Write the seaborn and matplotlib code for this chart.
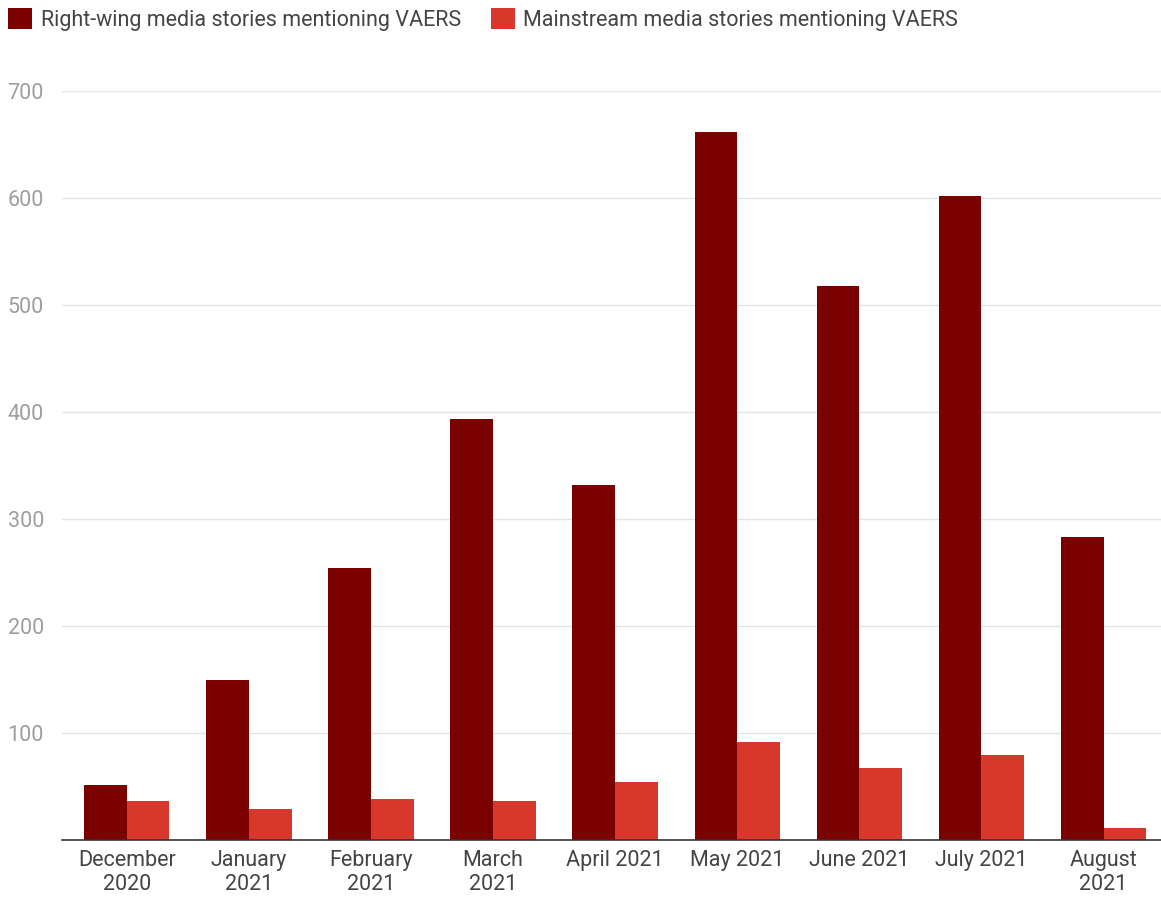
import matplotlib
matplotlib.use("Agg")
import matplotlib.pyplot as plt
import seaborn as sns
import pandas as pd
from matplotlib.patches import Patch

months = ["December\n2020", "January\n2021", "February\n2021", "March\n2021",
          "April 2021", "May 2021", "June 2021", "July 2021", "August\n2021"]
right_wing = [51, 150, 254, 393, 332, 662, 518, 602, 283]
mainstream = [36, 29, 38, 36, 54, 92, 67, 79, 11]
series_names = ["Right-wing media stories mentioning VAERS",
                "Mainstream media stories mentioning VAERS"]
colors = ["#7b0000", "#d8382c"]
y_ticks = [100, 200, 300, 400, 500, 600, 700]

df = pd.DataFrame({
    "month": months * 2,
    "value": right_wing + mainstream,
    "series": [series_names[0]] * len(months) + [series_names[1]] * len(months),
})

sns.set_theme(style="white")
plt.rcParams["font.family"] = ["Roboto", "DejaVu Sans"]

fig = plt.figure(figsize=(11.61, 9.01), dpi=100)
ax = fig.add_axes([0.0534, 0.0677, 0.9466, 0.8313])

sns.barplot(data=df, x="month", y="value", hue="series", order=months,
            hue_order=series_names, palette=colors, width=0.7, gap=0,
            saturation=1, ax=ax, legend=False, errorbar=None, linewidth=0)

ax.set_xlim(-0.53, len(months) - 0.53)
ax.set_ylim(0, 700)
ax.set_yticks(y_ticks)
ax.set_yticklabels([str(t) for t in y_ticks], color="#9e9e9e", fontsize=15.5)
ax.tick_params(axis="y", length=0, pad=13)
ax.tick_params(axis="x", length=0, pad=7, labelsize=15.5, labelcolor="#444444")
ax.grid(axis="y", color="#e3e3e3", linewidth=1)
ax.set_axisbelow(True)
for s in ["top", "right", "left"]:
    ax.spines[s].set_visible(False)
ax.spines["bottom"].set_color("#333333")
ax.spines["bottom"].set_linewidth(1.2)
ax.set_xlabel("")
ax.set_ylabel("")

handles = [Patch(facecolor=c, edgecolor="none") for c in colors]
fig.legend(handles, series_names, loc="upper left", bbox_to_anchor=(-0.004, 1.005),
           ncol=2, frameon=False, fontsize=15.5, handlelength=1.1, handleheight=1.1,
           handletextpad=0.4, columnspacing=1.4, labelcolor="#444444",
           borderaxespad=0.2)

fig.savefig("out.png", dpi=100)
